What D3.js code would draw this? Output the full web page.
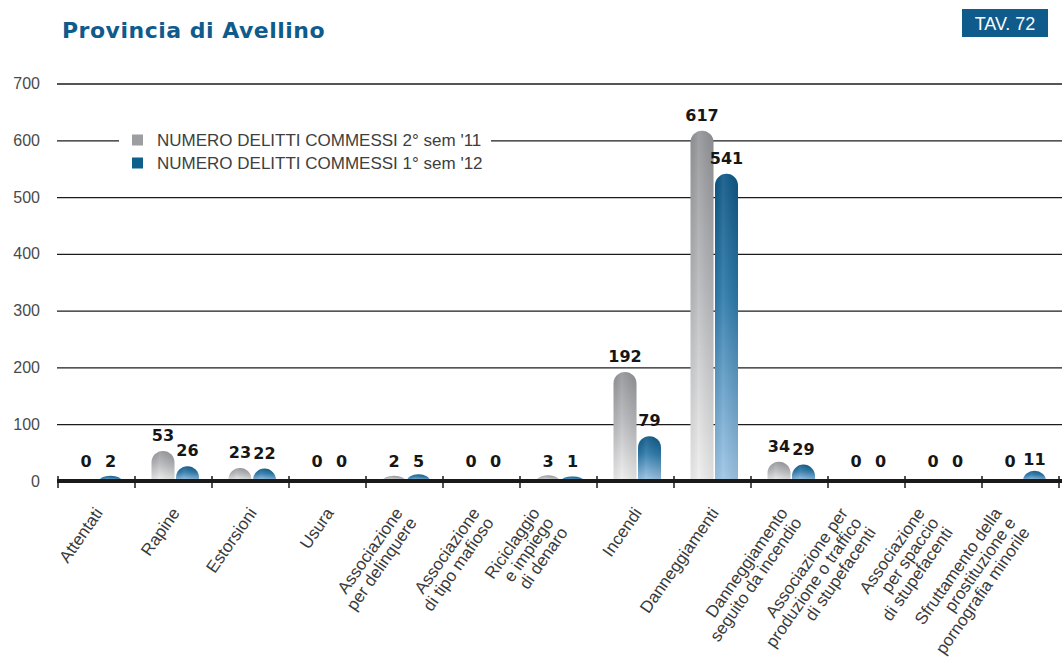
<!DOCTYPE html>
<html>
<head>
<meta charset="utf-8">
<script src="https://cdn.jsdelivr.net/npm/d3@7"></script>
<style>
	body { margin: 0; background: #ffffff; }
	svg { display: block; }
</style>
</head>
<body>
<div id="myChart"></div>
<script>
// colours
var bcolor = '#ffffff';
var tcolor = '#3a3a3a';
var titleBlue = '#0f5b8c';
var gridColor = '#1c1c1c';
var font = "'DejaVu Sans', Verdana, sans-serif";
var lightFont = "'Liberation Sans', Arial, sans-serif";

// data
var categories = [
	['Attentati'],
	['Rapine'],
	['Estorsioni'],
	['Usura'],
	['Associazione', 'per delinquere'],
	['Associazione', 'di tipo mafioso'],
	['Riciclaggio', 'e impiego', 'di denaro'],
	['Incendi'],
	['Danneggiamenti'],
	['Danneggiamento', 'seguito da incendio'],
	['Associazione per', 'produzione o traffico', 'di stupefacenti'],
	['Associazione', 'per spaccio', 'di stupefacenti'],
	['Sfruttamento della', 'prostituzione e', 'pornografia minorile']
];
var sem2_11 = [0, 53, 23, 0, 2, 0, 3, 192, 617, 34, 0, 0, 0];
var sem1_12 = [2, 26, 22, 0, 5, 0, 1, 79, 541, 29, 0, 0, 11];
var seriesNames = ["NUMERO DELITTI COMMESSI 2° sem '11", "NUMERO DELITTI COMMESSI 1° sem '12"];
var yTicks = [0, 100, 200, 300, 400, 500, 600, 700];

var width = 1062, height = 664;

function plotChart() {
	var svg = d3.select('#myChart')
		.append('svg')
		.attr('width', width)
		.attr('height', height)
		.style('background', bcolor);

	var defs = svg.append('defs');

	function vGrad(id, stops) {
		var g = defs.append('linearGradient')
			.attr('id', id)
			.attr('x1', 0).attr('y1', 0).attr('x2', 0).attr('y2', 1);
		stops.forEach(function (s) {
			g.append('stop').attr('offset', s[0]).attr('stop-color', s[1]);
		});
	}
	vGrad('gray', [[0, '#939497'], [0.45, '#b8b9bc'], [1, '#efefef']]);
	vGrad('blue', [[0, '#0b5684'], [0.4, '#2c79aa'], [1, '#9fc6e6']]);

	// cylinder shading
	var sh = defs.append('linearGradient').attr('id', 'shade')
		.attr('x1', 0).attr('y1', 0).attr('x2', 1).attr('y2', 0);
	sh.append('stop').attr('offset', 0).attr('stop-color', '#000').attr('stop-opacity', 0.05);
	sh.append('stop').attr('offset', 0.35).attr('stop-color', '#fff').attr('stop-opacity', 0.1);
	sh.append('stop').attr('offset', 1).attr('stop-color', '#000').attr('stop-opacity', 0.07);

	var y = d3.scaleLinear()
		.domain([0, 700])
		.range([481, 83.5]);

	var x = d3.scaleBand()
		.domain(d3.range(categories.length))
		.range([58, 1059])
		.paddingInner(0)
		.paddingOuter(0);

	var xs = d3.scaleBand()
		.domain([0, 1])
		.range([16.5, 64])
		.paddingInner(0.06);

	// title
	svg.append('text')
		.attr('x', 62).attr('y', 38)
		.attr('font-family', font)
		.attr('font-weight', 'bold')
		.attr('font-size', '22px')
		.attr('letter-spacing', '0.5px')
		.attr('fill', titleBlue)
		.text('Provincia di Avellino');

	svg.append('rect')
		.attr('x', 962).attr('y', 9)
		.attr('width', 86).attr('height', 28)
		.attr('fill', titleBlue);
	svg.append('text')
		.attr('x', 1005).attr('y', 30)
		.attr('text-anchor', 'middle')
		.attr('font-family', lightFont)
		.attr('font-size', '18px')
		.attr('fill', '#ffffff')
		.text('TAV. 72');

	// grid + y labels
	var yAxis = svg.append('g')
		.attr('transform', 'translate(57,0)')
		.call(d3.axisLeft(y).tickValues(yTicks).tickSize(-(width - 57)).tickPadding(17));
	yAxis.select('.domain').remove();
	yAxis.selectAll('.tick line')
		.attr('stroke', gridColor)
		.attr('stroke-width', 1.3);
	yAxis.selectAll('.tick text')
		.attr('font-family', lightFont)
		.attr('font-size', '16px')
		.attr('fill', '#4a4a4a');

	// legend
	var leg = svg.append('g');
	leg.append('rect')
		.attr('x', 119).attr('y', 126)
		.attr('width', 372).attr('height', 50)
		.attr('fill', bcolor);
	seriesNames.forEach(function (name, i) {
		var cy = 140 + i * 23;
		leg.append('rect')
			.attr('x', 132).attr('y', cy - 5.5)
			.attr('width', 11).attr('height', 11)
			.attr('fill', i == 0 ? '#9d9ea1' : '#0e5f8c');
		leg.append('text')
			.attr('x', 157).attr('y', cy)
			.attr('dy', '0.35em')
			.attr('font-family', lightFont)
			.attr('font-size', '17px')
			.attr('fill', '#3e3e3e')
			.text(name);
	});

	// bars
	function barPath(x0, w, v) {
		var base = y(0);
		if (v <= 0) return null;
		var h = base - y(v);
		var r = w / 2;
		if (h < r) {
			var hv = Math.min(h + 4, r);
			return 'M' + x0 + ',' + base +
				'A' + r + ',' + hv + ' 0 0 1 ' + (x0 + w) + ',' + base + 'Z';
		}
		return 'M' + x0 + ',' + base +
			'L' + x0 + ',' + (base - h + r) +
			'A' + r + ',' + r + ' 0 0 1 ' + (x0 + w) + ',' + (base - h + r) +
			'L' + (x0 + w) + ',' + base + 'Z';
	}

	var series = [sem2_11, sem1_12];
	var fills = ['url(#gray)', 'url(#blue)'];
	var bars = svg.append('g');
	var labels = svg.append('g');

	series.forEach(function (vals, s) {
		vals.forEach(function (v, i) {
			var x0 = x(i) + xs(s);
			var p = barPath(x0, xs.bandwidth(), v);
			if (p) {
				bars.append('path').attr('d', p).attr('fill', fills[s]);
				bars.append('path').attr('d', p).attr('fill', 'url(#shade)');
			}
			labels.append('text')
				.attr('x', x0 + xs.bandwidth() / 2)
				.attr('y', Math.min(y(v) - 10, 467))
				.attr('text-anchor', 'middle')
				.attr('font-family', font)
				.attr('font-weight', 'bold')
				.attr('font-size', '16px')
				.attr('fill', '#161616')
				.text(v);
		});
	});

	// baseline and ticks
	svg.append('line')
		.attr('x1', 57).attr('x2', width)
		.attr('y1', y(0)).attr('y2', y(0))
		.attr('stroke', '#1a1a1a')
		.attr('stroke-width', 4);

	var tickPos = x.domain().map(function (d) { return x(d); }).concat([x.range()[1]]);
	svg.append('g').selectAll('line')
		.data(tickPos)
		.enter().append('line')
		.attr('x1', function (d) { return d; })
		.attr('x2', function (d) { return d; })
		.attr('y1', 476).attr('y2', 488)
		.attr('stroke', '#1a1a1a')
		.attr('stroke-width', 1.5);

	// category labels
	var shift = [0, -8, -25];
	var cl = svg.append('g');
	categories.forEach(function (lines, i) {
		var n = lines.length;
		var cx = x(i) + x.bandwidth() / 2 + 7 + shift[n - 1];
		var g = cl.append('g')
			.attr('transform', 'translate(' + cx + ',513) rotate(-55)');
		lines.forEach(function (t, j) {
			g.append('text')
				.attr('x', 0)
				.attr('y', j * 17)
				.attr('text-anchor', 'end')
				.attr('font-family', lightFont)
				.attr('font-size', '17px')
				.attr('fill', tcolor)
				.text(t);
		});
	});
}

plotChart();
</script>
</body>
</html>
